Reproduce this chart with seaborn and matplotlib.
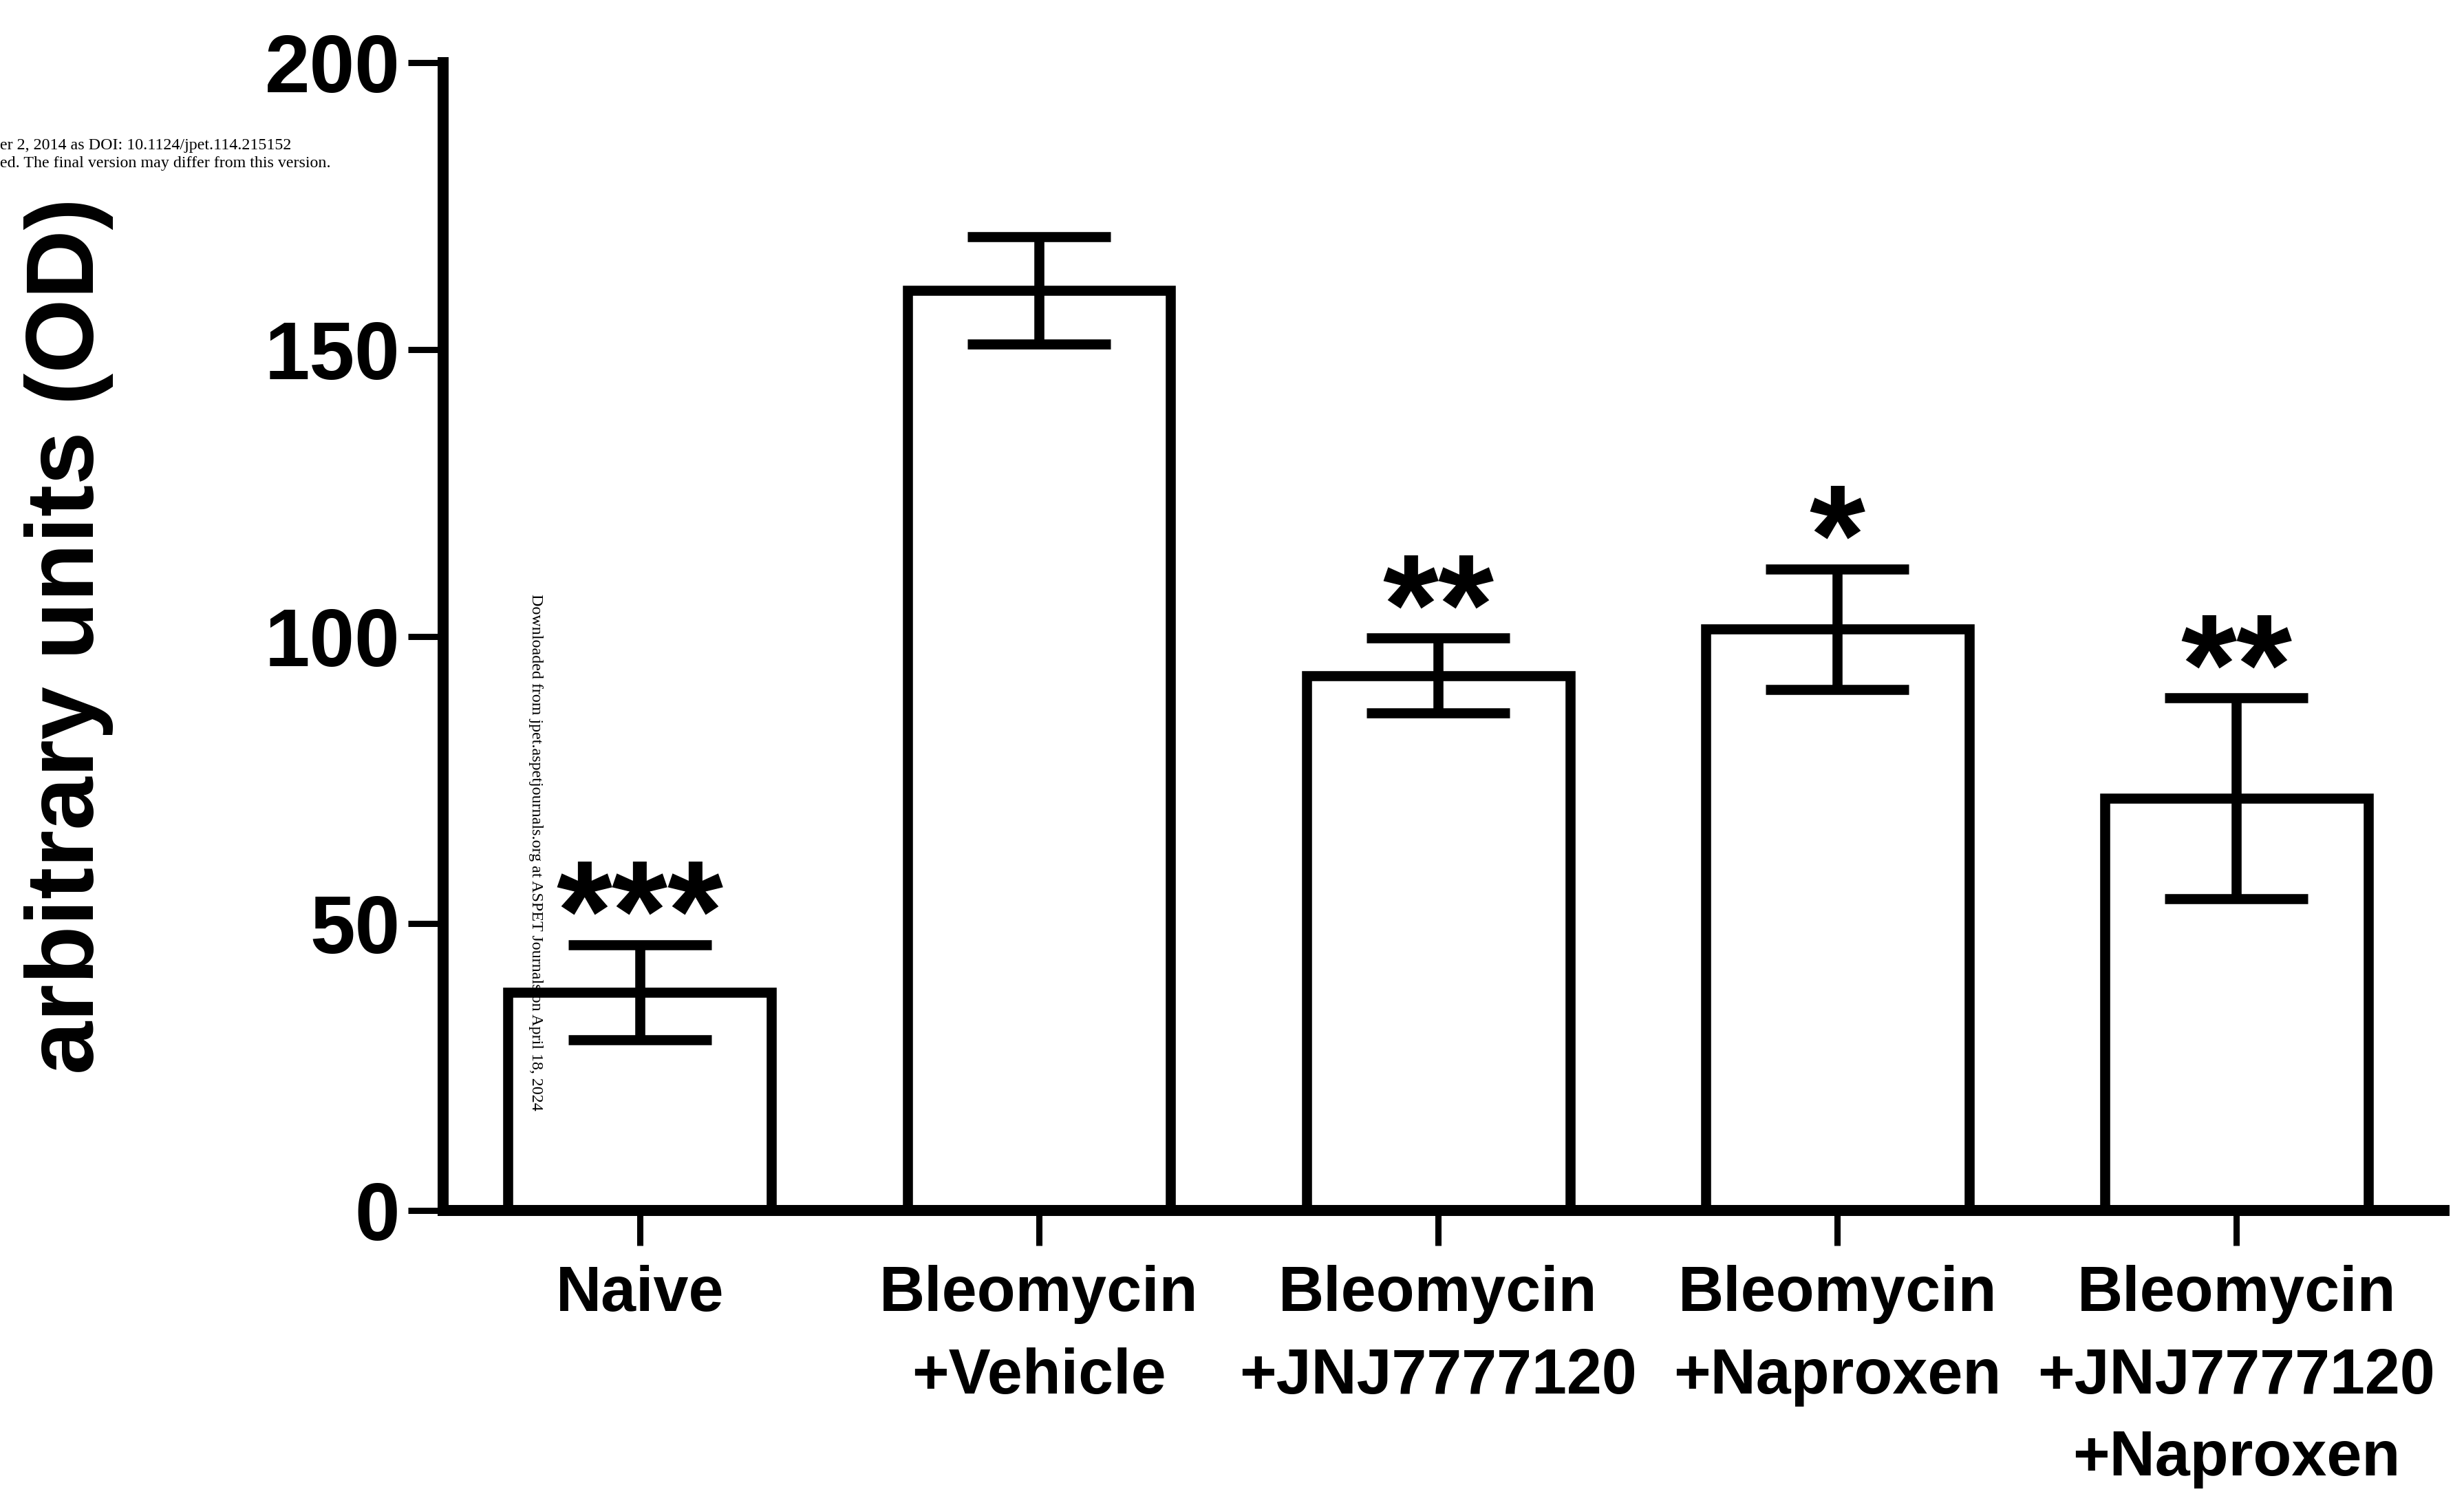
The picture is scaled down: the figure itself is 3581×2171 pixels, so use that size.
import matplotlib
matplotlib.use("Agg")
import matplotlib.pyplot as plt
import numpy as np
import pandas as pd
import seaborn as sns

# group names, mean OD and SEM
groups = ["Naive", "Bleomycin\n+Vehicle", "Bleomycin\n+JNJ7777120",
          "Bleomycin\n+Naproxen", "Bleomycin\n+JNJ7777120\n+Naproxen"]
means = [38.0, 160.3, 93.2, 101.3, 71.8]
sems = [8.3, 9.3, 6.5, 10.5, 17.5]
stars = ["***", "", "**", "*", "**"]
y_ticks = [0, 50, 100, 150, 200]

sns.set_style("ticks")
plt.rcParams["font.family"] = ["Liberation Sans", "DejaVu Sans"]
plt.rcParams["text.color"] = "black"
plt.rcParams["axes.labelcolor"] = "black"
plt.rcParams["xtick.color"] = "black"
plt.rcParams["ytick.color"] = "black"

df = pd.DataFrame({"group": groups, "mean": means, "sem": sems})

fig = plt.figure(figsize=(35.81, 21.71), dpi=100)
fig.patch.set_facecolor("white")
ax = fig.add_axes([0.1798, 0.1898, 0.8121, 0.7683])
ax.set_facecolor("none")

sns.barplot(data=df, x="group", y="mean", fill=False, color="black",
            linewidth=10.5, width=0.66, errorbar=None, ax=ax)

x = np.arange(len(groups))
ax.errorbar(x, df["mean"], yerr=df["sem"], fmt="none", ecolor="black",
            elinewidth=10.5, capsize=75, capthick=10.5, zorder=3)

for i, (m, s, st) in enumerate(zip(means, sems, stars)):
    if st:
        ax.annotate(st, xy=(i, m + s), xytext=(0, -16), textcoords="offset points",
                    ha="center", va="baseline", fontsize=150, fontweight="bold",
                    color="black")

ax.set_xlim(-0.493, 4.52)
ax.set_ylim(0, 200)
ax.set_xlabel("")
ax.set_ylabel("")
sns.despine(ax=ax)
for side in ["left", "bottom"]:
    ax.spines[side].set_linewidth(11.5)
    ax.spines[side].set_color("black")
    ax.spines[side].set_capstyle("projecting")

ax.set_yticks(y_ticks)
ax.set_yticklabels([str(t) for t in y_ticks], fontsize=85, fontweight="bold",
                   color="black")
ax.set_xticks(x)
ax.set_xticklabels(groups, fontsize=66, fontweight="bold", color="black",
                   linespacing=1.5)
ax.tick_params(axis="both", length=37, width=6.5, color="black", direction="out")
ax.tick_params(axis="y", pad=8)
ax.tick_params(axis="x", pad=20)

fig.text(100 / 3581, 1 - 924 / 2171, "arbitrary units (OD)", rotation=90,
         ha="center", va="center", fontsize=100, fontweight="bold", color="black")

# journal watermarks
serif = ["Liberation Serif", "DejaVu Serif"]
fig.text(0.0, 1 - 212 / 2171, "er 2, 2014 as DOI: 10.1124/jpet.114.215152",
         fontsize=17.3, family=serif, ha="left", va="center", color="black")
fig.text(0.0, 1 - 237 / 2171, "ed. The final version may differ from this version.",
         fontsize=17.3, family=serif, ha="left", va="center", color="black")
fig.text(778 / 3581, 1 - 1238 / 2171,
         "Downloaded from jpet.aspetjournals.org at ASPET Journals on April 18, 2024",
         rotation=270, ha="center", va="center", fontsize=17.3, family=serif,
         color="black", zorder=-1)

fig.savefig("out.png", dpi=100)
plt.close()
